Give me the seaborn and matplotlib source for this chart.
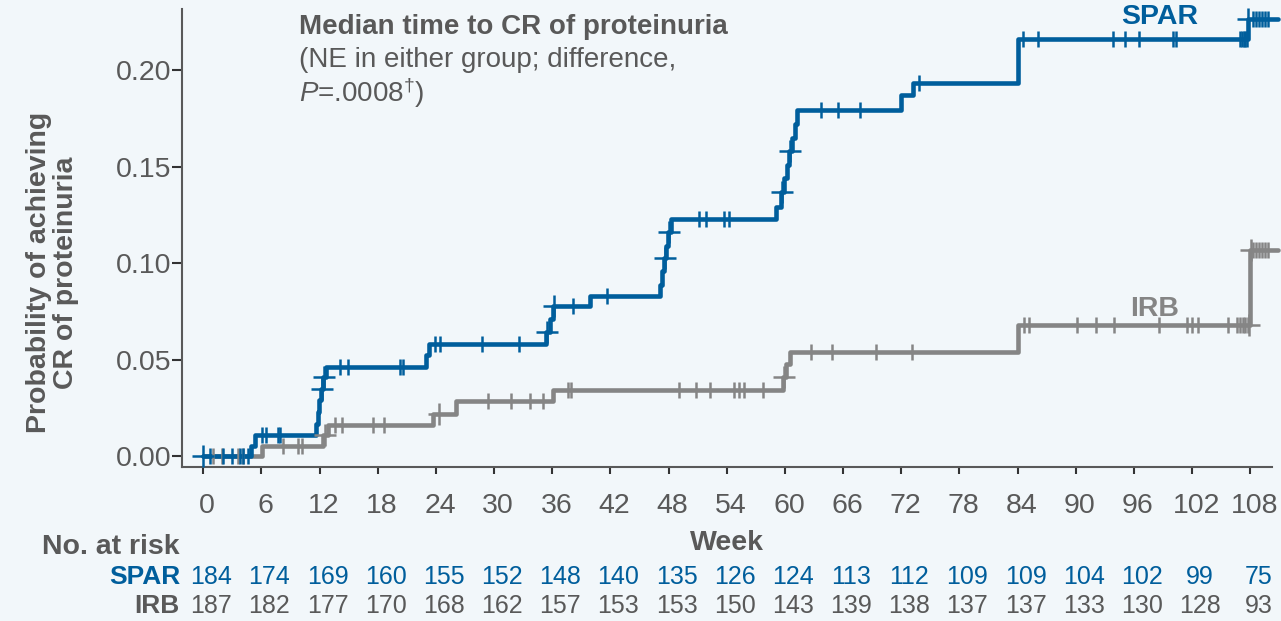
import numpy as np
import pandas as pd
import seaborn as sns
import matplotlib.pyplot as plt
from matplotlib import transforms

# cumulative probability of CR of proteinuria (step curve)
spar_weeks = [0, 4.95, 5.3, 11.6, 11.8, 11.95, 12.1, 12.3, 12.7, 23.0, 23.3,
              35.4, 35.75, 36.1, 39.9, 47.1, 47.3, 47.5, 47.7, 47.9, 48.2,
              59.1, 59.6, 59.9, 60.2, 60.4, 60.7, 61.0, 61.2,
              72.0, 73.2, 84.0, 107.75, 110.9]
spar_prob = [0, 0.0055, 0.011, 0.017, 0.023, 0.029, 0.035, 0.041, 0.0465, 0.0525, 0.058,
             0.0645, 0.071, 0.078, 0.0833, 0.089, 0.096, 0.103, 0.109, 0.116, 0.123,
             0.129, 0.137, 0.144, 0.151, 0.158, 0.165, 0.172, 0.1795,
             0.187, 0.1936, 0.216, 0.2264, 0.2264]
irb_weeks = [0, 6.02, 12.37, 12.9, 23.7, 26.1, 36.1, 59.8, 60.1, 60.5, 84.0, 108.0, 110.9]
irb_prob = [0, 0.0055, 0.011, 0.0165, 0.022, 0.0289, 0.0344, 0.041, 0.048, 0.0543,
            0.0681, 0.107, 0.107]

# censored patients (tick marks) and censor marks drawn as crosses
spar_censor = [0.7, 2.0, 2.96, 3.78, 4.09, 4.6, 6.02, 6.47, 7.67, 7.91, 14.1, 14.92,
               20.28, 20.56, 23.9, 24.4, 28.7, 32.6, 38.1, 41.6, 51.15, 51.9, 53.7,
               54.2, 63.7, 65.5, 67.7, 73.8, 84.55, 86.1, 93.8, 95.1, 96.5, 100.0,
               100.3, 106.9, 107.1, 107.3, 107.5, 107.7, 108.3, 108.6, 108.9, 109.2,
               109.5, 109.8]
spar_cross = [0, 12.2, 12.5, 35.5, 36.2, 47.6, 48.0, 59.7, 60.5, 107.8]
irb_censor = [1.0, 1.9, 3.6, 4.1, 8.25, 9.8, 10.15, 13.6, 14.3, 17.5, 18.6, 29.4,
              31.7, 33.65, 35.06, 37.6, 37.9, 49.05, 50.8, 52.25, 54.75, 55.3, 55.75,
              57.7, 62.7, 64.9, 69.4, 73.15, 84.7, 85.2, 90.1, 92.1, 93.9, 98.6,
              101.5, 102.0, 102.6, 105.7, 106.6, 106.9, 107.2, 107.5, 107.8, 108.3,
              108.6, 108.9, 109.2, 109.5, 109.8]
irb_cross = [12.6, 24.3, 59.9, 107.9, 108.1]

# number at risk table
risk_weeks = list(range(0, 109, 6))
spar_risk = [184, 174, 169, 160, 155, 152, 148, 140, 135, 126, 124, 113, 112, 109, 109, 104, 102, 99, 75]
irb_risk = [187, 182, 177, 170, 168, 162, 157, 153, 153, 150, 143, 139, 138, 137, 137, 133, 130, 128, 93]

BLUE = "#005E9C"
GRAY = "#858585"
TXT = "#595959"
BG = "#F2F7FA"

sns.set_style("ticks")
plt.rcParams["font.family"] = ["Liberation Sans", "DejaVu Sans"]
plt.rcParams["mathtext.fontset"] = "custom"
plt.rcParams["mathtext.rm"] = "Liberation Sans"
plt.rcParams["mathtext.it"] = "Liberation Sans:italic"


def level_at(weeks, prob, t):
    idx = np.searchsorted(weeks, t, side="right") - 1
    return np.asarray(prob)[idx]


curves = pd.concat([
    pd.DataFrame({"week": irb_weeks, "prob": irb_prob, "arm": "IRB"}),
    pd.DataFrame({"week": spar_weeks, "prob": spar_prob, "arm": "SPAR"}),
])
pal = {"SPAR": BLUE, "IRB": GRAY}

fig = plt.figure(figsize=(12.81, 6.21), dpi=100)
fig.patch.set_facecolor(BG)
ax = fig.add_axes([0.1418, 0.2485, 0.8509, 0.7365])
ax.set_facecolor(BG)

sns.lineplot(data=curves, x="week", y="prob", hue="arm", palette=pal,
             hue_order=["IRB", "SPAR"], estimator=None, sort=False,
             drawstyle="steps-post", linewidth=3.3, legend=False, ax=ax,
             clip_on=False)

for arm, w, p, cens, crs in [("IRB", irb_weeks, irb_prob, irb_censor, irb_cross),
                             ("SPAR", spar_weeks, spar_prob, spar_censor, spar_cross)]:
    sns.scatterplot(x=cens, y=level_at(w, p, cens), marker="|", s=130,
                    color=pal[arm], linewidth=1.8, ax=ax, clip_on=False, zorder=3)
    sns.scatterplot(x=crs, y=level_at(w, p, crs), marker="+", s=230,
                    color=pal[arm], linewidth=1.8, ax=ax, clip_on=False, zorder=3)

ax.set_xlim(-2.23, 110.2)
ax.set_ylim(-0.0053, 0.2316)
ax.set_xticks(risk_weeks)
ax.set_yticks([0, 0.05, 0.10, 0.15, 0.20])
ax.set_yticklabels(["0.00", "0.05", "0.10", "0.15", "0.20"])
ax.set_xlabel("")
ax.set_ylabel("")
sns.despine(ax=ax)
for s in ["left", "bottom"]:
    ax.spines[s].set_color(TXT)
    ax.spines[s].set_linewidth(1.5)
ax.tick_params(axis="x", length=5, width=1.5, color="#333333", pad=14,
               labelsize=20.5, labelcolor=TXT)
ax.tick_params(axis="y", length=7, width=1.5, color="#333333", pad=0.5,
               labelsize=20.5, labelcolor=TXT)
shift = transforms.ScaledTranslation(4 / 100, 0, fig.dpi_scale_trans)
for lab in ax.get_xticklabels():
    lab.set_transform(lab.get_transform() + shift)

# curve labels
ax.text(98.7, 0.2275, "SPAR", color=BLUE, fontsize=20.5, fontweight="bold",
        ha="center", va="center")
ax.text(98.1, 0.0766, "IRB", color=GRAY, fontsize=20.5, fontweight="bold",
        ha="center", va="center")

# annotation
fig.text(0.2334, 0.9565, "Median time to CR of proteinuria", color=TXT,
         fontsize=20, fontweight="bold", ha="left", va="center")
fig.text(0.2334, 0.9034, "(NE in either group; difference,", color=TXT,
         fontsize=20, ha="left", va="center")
fig.text(0.2334, 0.850, r"$P$=.0008$^{\dagger}$)", color=TXT,
         fontsize=20, ha="left", va="center")

# axis titles
fig.text(0.0406, 0.561, "Probability of achieving\nCR of proteinuria", color=TXT,
         fontsize=20.5, fontweight="bold", rotation=90, ha="center", va="center",
         multialignment="center", linespacing=1.05)
fig.text(0.5673, 0.126, "Week", color=TXT, fontsize=20.5, fontweight="bold",
         ha="center", va="center")

# number at risk
fig.text(0.1405, 0.119, "No. at risk", color=TXT, fontsize=20.5, fontweight="bold",
         ha="right", va="center")
fig.text(0.1405, 0.0709, "SPAR", color=BLUE, fontsize=19, fontweight="bold",
         ha="right", va="center")
fig.text(0.1405, 0.0242, "IRB", color=TXT, fontsize=19, fontweight="bold",
         ha="right", va="center")
row = transforms.blended_transform_factory(ax.transData, fig.transFigure)
row = row + transforms.ScaledTranslation(8 / 100, 0, fig.dpi_scale_trans)
for wk, a, b in zip(risk_weeks, spar_risk, irb_risk):
    fig.text(wk, 0.0709, str(a), color=BLUE, fontsize=18, ha="center",
             va="center", transform=row)
    fig.text(wk, 0.0242, str(b), color=TXT, fontsize=18, ha="center",
             va="center", transform=row)

fig.savefig("out.png", dpi=100, facecolor=BG)
